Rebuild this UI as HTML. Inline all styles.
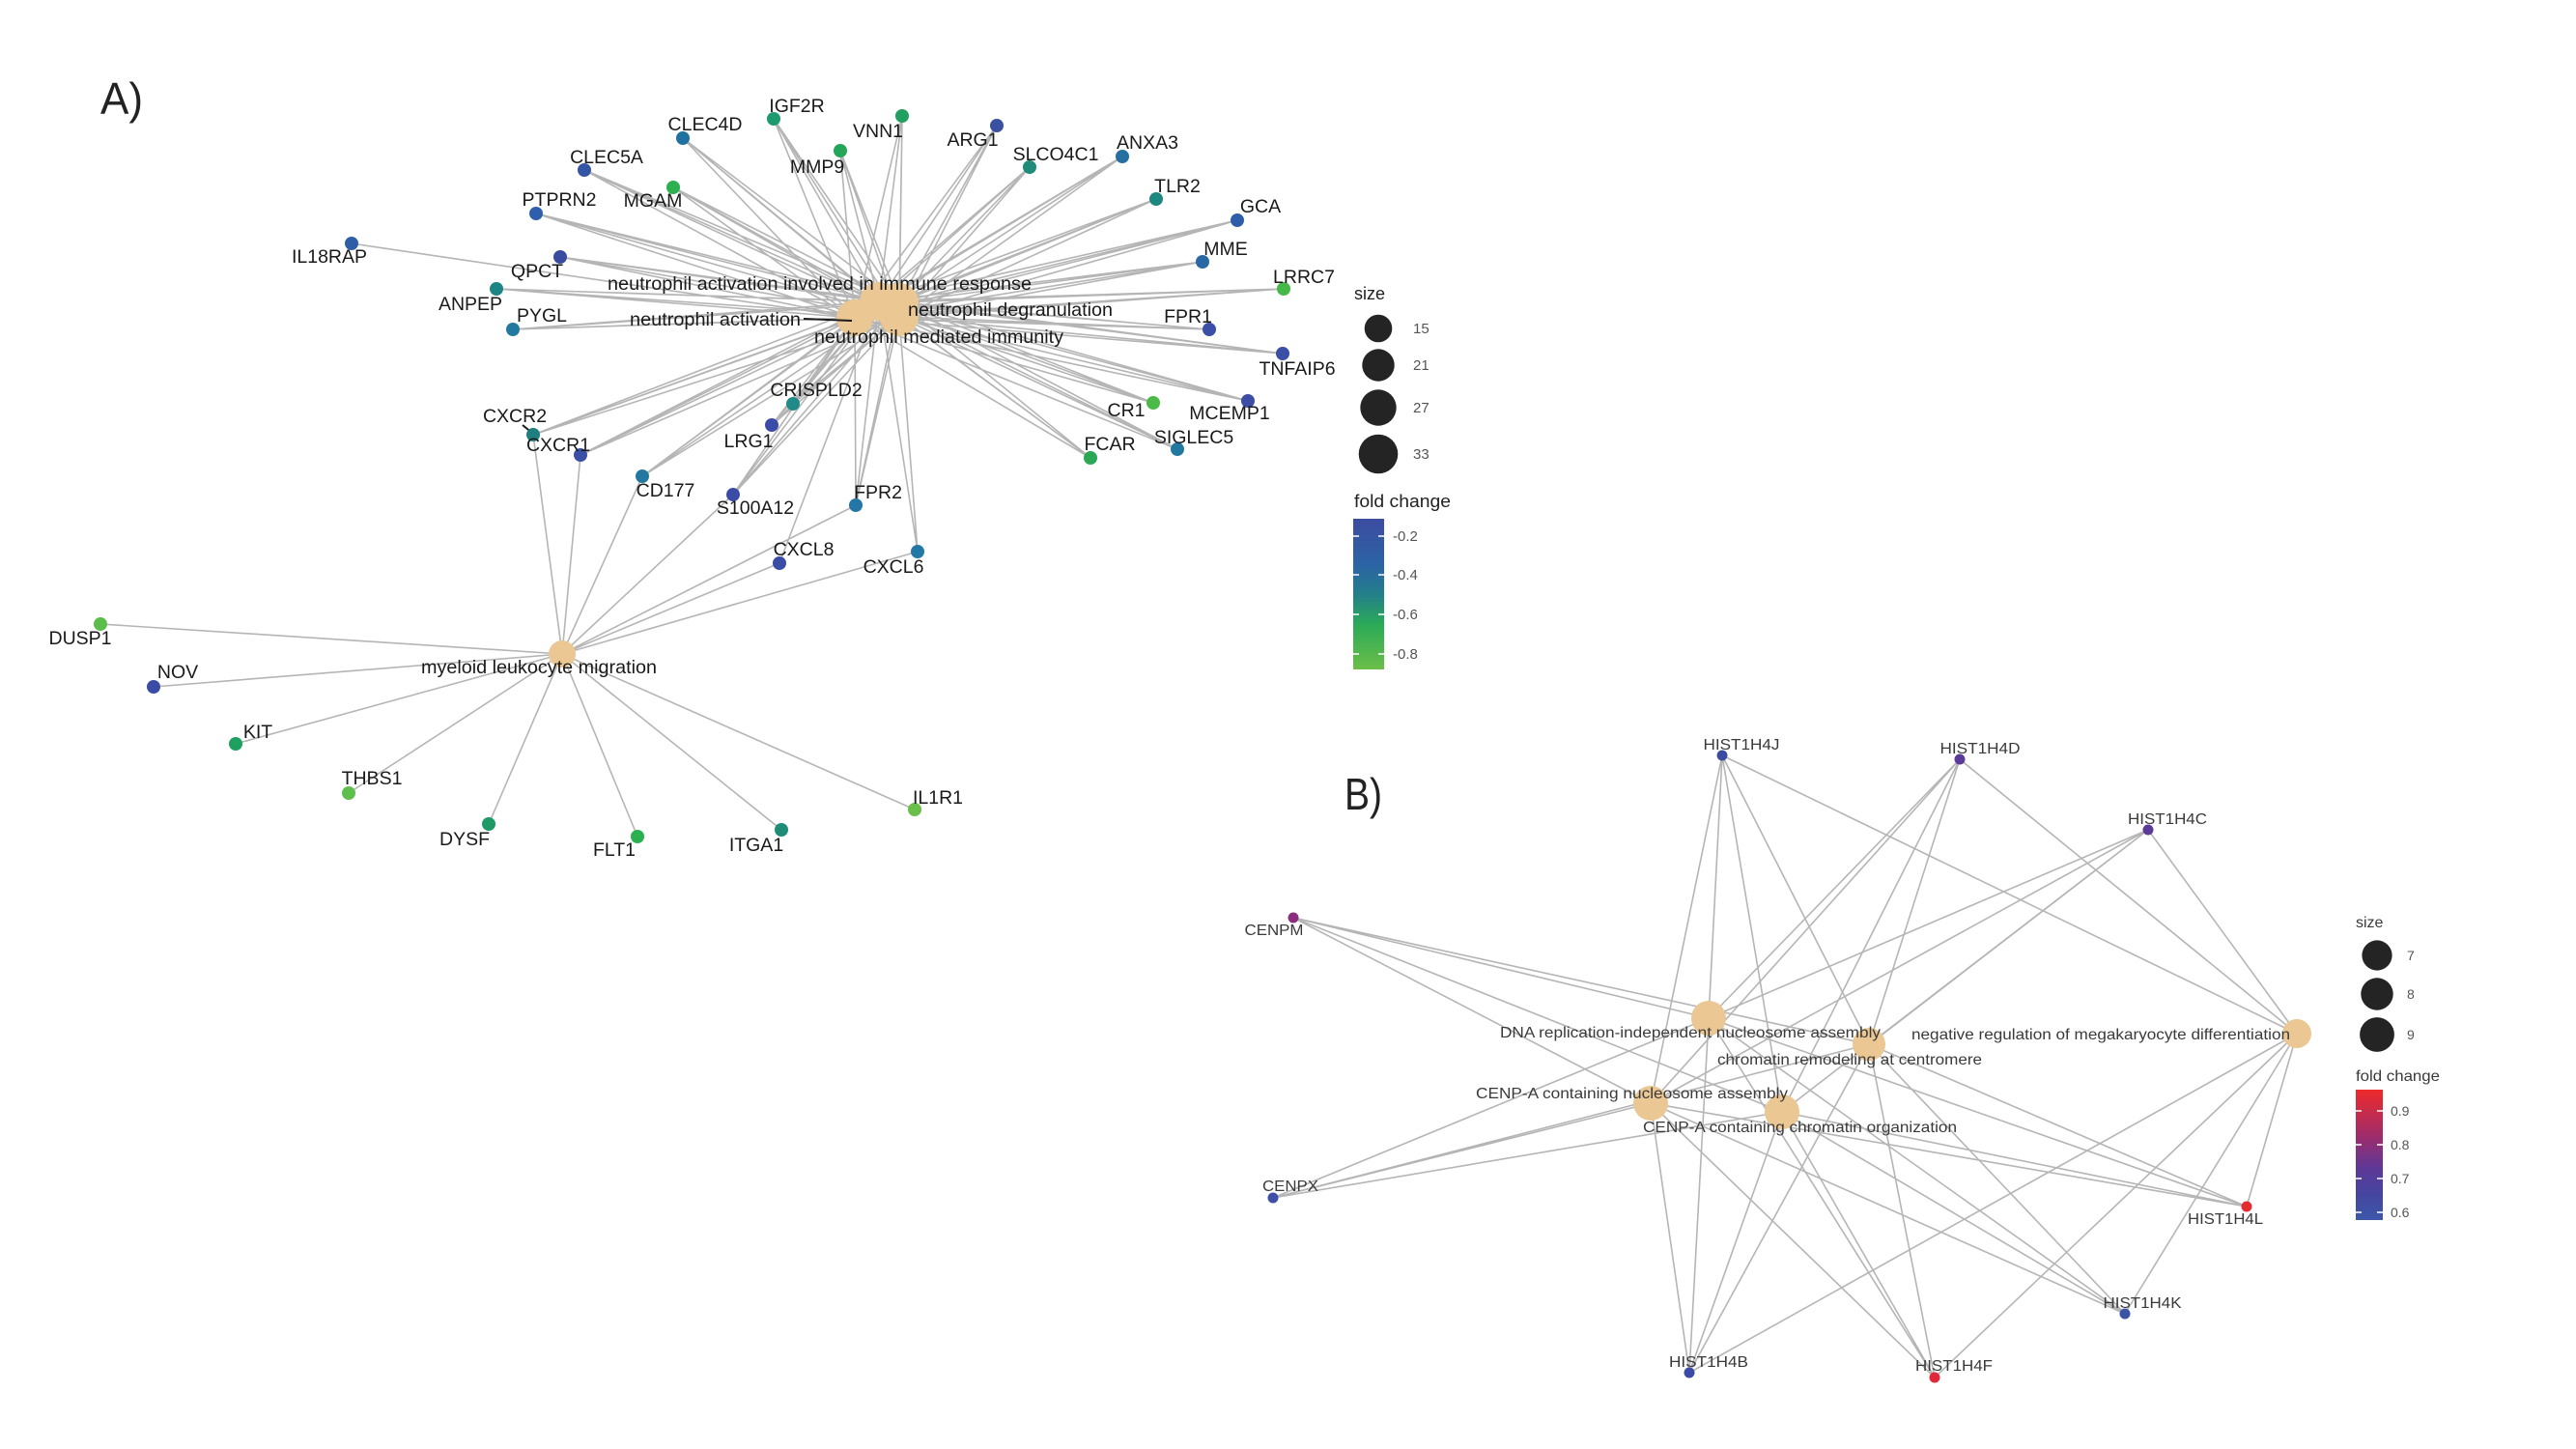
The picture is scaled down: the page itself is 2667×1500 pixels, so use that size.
<!DOCTYPE html>
<html>
<head>
<meta charset="utf-8">
<style>
html,body{margin:0;padding:0;background:#fff;}
svg{display:block;}
text{font-family:"Liberation Sans",Arial,sans-serif;}
.ga{font-size:19.5px;fill:#1a1a1a;text-anchor:middle;}
.gb{font-size:16px;fill:#3a3a3a;text-anchor:middle;}
.tb{font-size:16px;fill:#3a3a3a;}
</style>
</head>
<body>
<svg width="2667" height="1500" viewBox="0 0 2667 1500" xmlns="http://www.w3.org/2000/svg">
<defs>
<linearGradient id="gA" x1="0" y1="0" x2="0" y2="1">
<stop offset="0" stop-color="#3C4C9F"/>
<stop offset="0.3" stop-color="#2C63A6"/>
<stop offset="0.5" stop-color="#237F8A"/>
<stop offset="0.7" stop-color="#2BAA58"/>
<stop offset="1" stop-color="#6BBE48"/>
</linearGradient>
<linearGradient id="gB" x1="0" y1="0" x2="0" y2="1">
<stop offset="0" stop-color="#EE2A2B"/>
<stop offset="0.35" stop-color="#A02C6A"/>
<stop offset="0.6" stop-color="#5E3896"/>
<stop offset="0.8" stop-color="#4545A0"/>
<stop offset="1" stop-color="#3C58A8"/>
</linearGradient>
</defs>

<!-- Panel A edges -->
<path fill="none" stroke="#b5b5b5" stroke-width="1.6" d="
M801 123L910 312M801 123L931 313M801 123L885 329M801 123L931 328
M707 143L910 312M707 143L931 313M707 143L885 329M707 143L931 328
M934 120L910 312M934 120L931 313M934 120L885 329M934 120L931 328
M870 156L910 312M870 156L931 313M870 156L885 329M870 156L931 328
M1032 130L910 312M1032 130L931 313M1032 130L885 329M1032 130L931 328
M1066 173L910 312M1066 173L931 313M1066 173L885 329M1066 173L931 328
M1162 162L910 312M1162 162L931 313M1162 162L885 329M1162 162L931 328
M605 176L910 312M605 176L931 313M605 176L885 329M605 176L931 328
M697 194L910 312M697 194L931 313M697 194L885 329M697 194L931 328
M1197 206L910 312M1197 206L931 313M1197 206L885 329M1197 206L931 328
M1281 228L910 312M1281 228L931 313M1281 228L885 329M1281 228L931 328
M555 221L910 312M555 221L931 313M555 221L885 329M555 221L931 328
M1245 271L910 312M1245 271L931 313M1245 271L885 329M1245 271L931 328
M580 266L910 312M580 266L931 313M580 266L885 329M580 266L931 328
M1329 299L910 312M1329 299L931 313M1329 299L885 329M1329 299L931 328
M514 299L910 312M514 299L931 313M514 299L885 329M514 299L931 328
M531 341L910 312M531 341L931 313M531 341L885 329M531 341L931 328
M1252 341L910 312M1252 341L931 313M1252 341L885 329M1252 341L931 328
M1328 366L910 312M1328 366L931 313M1328 366L885 329M1328 366L931 328
M821 418L910 312M821 418L931 313M821 418L885 329M821 418L931 328
M552 450L910 312M552 450L931 313M552 450L885 329M552 450L931 328
M601 471L910 312M601 471L931 313M601 471L885 329M601 471L931 328
M799 440L910 312M799 440L931 313M799 440L885 329M799 440L931 328
M1194 417L910 312M1194 417L931 313M1194 417L885 329M1194 417L931 328
M1292 415L910 312M1292 415L931 313M1292 415L885 329M1292 415L931 328
M1129 474L910 312M1129 474L931 313M1129 474L885 329M1129 474L931 328
M1219 465L910 312M1219 465L931 313M1219 465L885 329M1219 465L931 328
M665 493L910 312M665 493L931 313M665 493L885 329M665 493L931 328
M759 512L910 312M759 512L931 313M759 512L885 329M759 512L931 328
M886 523L910 312M886 523L931 313M886 523L885 329M886 523L931 328
M364 252L885 329
M807 583L910 312
M950 571L931 328M950 571L910 312
M582 677L104 646M582 677L159 711M582 677L244 770M582 677L361 821
M582 677L506 853M582 677L660 866M582 677L809 859M582 677L947 838
M582 677L552 450M582 677L601 471M582 677L665 493M582 677L759 512
M582 677L886 523M582 677L807 583M582 677L950 571
"/>

<!-- Panel A hub nodes -->
<g fill="#EAC793">
<circle cx="910" cy="312" r="20"/>
<circle cx="931" cy="313" r="20"/>
<circle cx="885" cy="329" r="19"/>
<circle cx="931" cy="328" r="20"/>
<circle cx="582" cy="677" r="14"/>
</g>
<line x1="832" y1="330" x2="882" y2="332" stroke="#1a1a1a" stroke-width="2"/>
<line x1="541" y1="440" x2="552" y2="449" stroke="#1a1a1a" stroke-width="2"/>

<!-- Panel A gene nodes -->
<g>
<circle cx="801" cy="123" r="7" fill="#1F9A6E"/>
<circle cx="707" cy="143" r="7" fill="#2070A0"/>
<circle cx="934" cy="120" r="7" fill="#20A060"/>
<circle cx="870" cy="156" r="7" fill="#25A55A"/>
<circle cx="1032" cy="130" r="7" fill="#3A50A0"/>
<circle cx="1066" cy="173" r="7" fill="#1E8C78"/>
<circle cx="1162" cy="162" r="7" fill="#2570A0"/>
<circle cx="605" cy="176" r="7" fill="#3455A5"/>
<circle cx="697" cy="194" r="7" fill="#2DB050"/>
<circle cx="1197" cy="206" r="7" fill="#1E8880"/>
<circle cx="1281" cy="228" r="7" fill="#2F5EA8"/>
<circle cx="555" cy="221" r="7" fill="#2F5FAA"/>
<circle cx="1245" cy="271" r="7" fill="#2A68A5"/>
<circle cx="364" cy="252" r="7" fill="#2F5EA8"/>
<circle cx="580" cy="266" r="7" fill="#3A4CA0"/>
<circle cx="1329" cy="299" r="7" fill="#44B848"/>
<circle cx="514" cy="299" r="7" fill="#1E8585"/>
<circle cx="531" cy="341" r="7" fill="#2378A0"/>
<circle cx="1252" cy="341" r="7" fill="#3A4FA5"/>
<circle cx="1328" cy="366" r="7" fill="#3A4FA5"/>
<circle cx="821" cy="418" r="7" fill="#1F8A88"/>
<circle cx="552" cy="450" r="7" fill="#1F7F80"/>
<circle cx="601" cy="471" r="7" fill="#3A50A5"/>
<circle cx="799" cy="440" r="7" fill="#3A4CA5"/>
<circle cx="1194" cy="417" r="7" fill="#4CBA48"/>
<circle cx="1292" cy="415" r="7" fill="#3D4CA5"/>
<circle cx="1129" cy="474" r="7" fill="#2AA854"/>
<circle cx="1219" cy="465" r="7" fill="#2378A0"/>
<circle cx="665" cy="493" r="7" fill="#2378A0"/>
<circle cx="759" cy="512" r="7" fill="#3A4CA5"/>
<circle cx="886" cy="523" r="7" fill="#2376A5"/>
<circle cx="807" cy="583" r="7" fill="#3A4CA5"/>
<circle cx="950" cy="571" r="7" fill="#2378A5"/>
<circle cx="104" cy="646" r="7" fill="#5BBE4A"/>
<circle cx="159" cy="711" r="7" fill="#3A4CA5"/>
<circle cx="244" cy="770" r="7" fill="#1DA060"/>
<circle cx="361" cy="821" r="7" fill="#5FBF4C"/>
<circle cx="506" cy="853" r="7" fill="#1E9A68"/>
<circle cx="660" cy="866" r="7" fill="#2BB050"/>
<circle cx="809" cy="859" r="7" fill="#1F8C78"/>
<circle cx="947" cy="838" r="7" fill="#6ABF4A"/>
</g>

<!-- Panel A labels -->
<text x="104" y="118" font-size="46" fill="#222" textLength="44" lengthAdjust="spacingAndGlyphs">A)</text>
<g class="ga">
<text x="825" y="116">IGF2R</text>
<text x="730" y="135">CLEC4D</text>
<text x="909" y="142">VNN1</text>
<text x="846" y="179">MMP9</text>
<text x="1007" y="151">ARG1</text>
<text x="1093" y="166">SLCO4C1</text>
<text x="1188" y="154">ANXA3</text>
<text x="628" y="169">CLEC5A</text>
<text x="676" y="214">MGAM</text>
<text x="1219" y="199">TLR2</text>
<text x="1305" y="220">GCA</text>
<text x="579" y="213">PTPRN2</text>
<text x="1269" y="264">MME</text>
<text x="341" y="272">IL18RAP</text>
<text x="556" y="287">QPCT</text>
<text x="1350" y="293">LRRC7</text>
<text x="487" y="321">ANPEP</text>
<text x="561" y="333">PYGL</text>
<text x="1230" y="334">FPR1</text>
<text x="1343" y="388">TNFAIP6</text>
<text x="845" y="410">CRISPLD2</text>
<text x="533" y="437">CXCR2</text>
<text x="578" y="467">CXCR1</text>
<text x="775" y="463">LRG1</text>
<text x="1166" y="431">CR1</text>
<text x="1273" y="434">MCEMP1</text>
<text x="1149" y="466">FCAR</text>
<text x="1236" y="459">SIGLEC5</text>
<text x="689" y="514">CD177</text>
<text x="782" y="532">S100A12</text>
<text x="909" y="516">FPR2</text>
<text x="832" y="575">CXCL8</text>
<text x="925" y="593">CXCL6</text>
<text x="83" y="667">DUSP1</text>
<text x="184" y="702">NOV</text>
<text x="267" y="764">KIT</text>
<text x="385" y="812">THBS1</text>
<text x="481" y="875">DYSF</text>
<text x="636" y="886">FLT1</text>
<text x="783" y="881">ITGA1</text>
<text x="971" y="832">IL1R1</text>
</g>
<g font-size="19.5" fill="#1a1a1a">
<text x="629" y="300" textLength="439" lengthAdjust="spacingAndGlyphs">neutrophil activation involved in immune response</text>
<text x="940" y="327" textLength="212" lengthAdjust="spacingAndGlyphs">neutrophil degranulation</text>
<text x="652" y="337" textLength="177" lengthAdjust="spacingAndGlyphs">neutrophil activation</text>
<text x="843" y="355" textLength="258" lengthAdjust="spacingAndGlyphs">neutrophil mediated immunity</text>
<text x="436" y="697" textLength="244" lengthAdjust="spacingAndGlyphs">myeloid leukocyte migration</text>
</g>

<!-- Panel A legend -->
<text x="1402" y="310" font-size="18" fill="#222">size</text>
<g fill="#242424">
<circle cx="1427" cy="340" r="14.3"/>
<circle cx="1427" cy="378" r="16.7"/>
<circle cx="1427" cy="422" r="18.7"/>
<circle cx="1427" cy="470" r="20.3"/>
</g>
<g font-size="15" fill="#555">
<text x="1463" y="345">15</text>
<text x="1463" y="383">21</text>
<text x="1463" y="427">27</text>
<text x="1463" y="475">33</text>
</g>
<text x="1402" y="525" font-size="18" fill="#222" textLength="100" lengthAdjust="spacingAndGlyphs">fold change</text>
<rect x="1401" y="537" width="32" height="156" fill="url(#gA)"/>
<g stroke="#fff" stroke-width="1.5">
<line x1="1401" y1="555" x2="1407" y2="555"/><line x1="1427" y1="555" x2="1433" y2="555"/>
<line x1="1401" y1="595" x2="1407" y2="595"/><line x1="1427" y1="595" x2="1433" y2="595"/>
<line x1="1401" y1="636" x2="1407" y2="636"/><line x1="1427" y1="636" x2="1433" y2="636"/>
<line x1="1401" y1="677" x2="1407" y2="677"/><line x1="1427" y1="677" x2="1433" y2="677"/>
</g>
<g font-size="15" fill="#555">
<text x="1442" y="560">-0.2</text>
<text x="1442" y="600">-0.4</text>
<text x="1442" y="641">-0.6</text>
<text x="1442" y="682">-0.8</text>
</g>

<!-- Panel B edges -->
<path fill="none" stroke="#b5b5b5" stroke-width="1.6" d="
M1783 782L1769 1054M1783 782L1935 1081M1783 782L2378 1070M1783 782L1709 1142M1783 782L1845 1151
M2029 786L1769 1054M2029 786L1935 1081M2029 786L2378 1070M2029 786L1709 1142M2029 786L1845 1151
M2224 859L1769 1054M2224 859L1935 1081M2224 859L2378 1070M2224 859L1709 1142M2224 859L1845 1151
M2326 1249L1769 1054M2326 1249L1935 1081M2326 1249L2378 1070M2326 1249L1709 1142M2326 1249L1845 1151
M2200 1360L1769 1054M2200 1360L1935 1081M2200 1360L2378 1070M2200 1360L1709 1142M2200 1360L1845 1151
M1749 1421L1769 1054M1749 1421L1935 1081M1749 1421L2378 1070M1749 1421L1709 1142M1749 1421L1845 1151
M2003 1426L1769 1054M2003 1426L1935 1081M2003 1426L2378 1070M2003 1426L1709 1142M2003 1426L1845 1151
M1339 950L1769 1054M1339 950L1935 1081M1339 950L1709 1142M1339 950L1845 1151
M1318 1240L1769 1054M1318 1240L1935 1081M1318 1240L1709 1142M1318 1240L1845 1151
"/>

<!-- Panel B term nodes -->
<g fill="#EAC793">
<circle cx="1769" cy="1054" r="18"/>
<circle cx="1935" cy="1081" r="17"/>
<circle cx="2378" cy="1070" r="15"/>
<circle cx="1709" cy="1142" r="18"/>
<circle cx="1845" cy="1151" r="18"/>
</g>

<!-- Panel B gene nodes -->
<g>
<circle cx="1783" cy="782" r="5.5" fill="#3B4CA0"/>
<circle cx="2029" cy="786" r="5.5" fill="#5B3A99"/>
<circle cx="2224" cy="859" r="5.5" fill="#5E3A98"/>
<circle cx="1339" cy="950" r="5.5" fill="#8B2E7D"/>
<circle cx="1318" cy="1240" r="5.5" fill="#3D50A8"/>
<circle cx="2326" cy="1249" r="5.5" fill="#E42B2F"/>
<circle cx="2200" cy="1360" r="5.5" fill="#3C52A6"/>
<circle cx="1749" cy="1421" r="5.5" fill="#3A4AA5"/>
<circle cx="2003" cy="1426" r="5.5" fill="#E0283A"/>
</g>

<!-- Panel B labels -->
<text x="1392" y="838" font-size="46" fill="#222" textLength="39" lengthAdjust="spacingAndGlyphs">B)</text>
<g class="gb">
<text x="1803" y="776" textLength="79" lengthAdjust="spacingAndGlyphs">HIST1H4J</text>
<text x="2050" y="780" textLength="83" lengthAdjust="spacingAndGlyphs">HIST1H4D</text>
<text x="2244" y="853" textLength="82" lengthAdjust="spacingAndGlyphs">HIST1H4C</text>
<text x="1319" y="968" textLength="61" lengthAdjust="spacingAndGlyphs">CENPM</text>
<text x="1336" y="1233" textLength="58" lengthAdjust="spacingAndGlyphs">CENPX</text>
<text x="2304" y="1267" textLength="78" lengthAdjust="spacingAndGlyphs">HIST1H4L</text>
<text x="2218" y="1354" textLength="81" lengthAdjust="spacingAndGlyphs">HIST1H4K</text>
<text x="1769" y="1415" textLength="82" lengthAdjust="spacingAndGlyphs">HIST1H4B</text>
<text x="2023" y="1419" textLength="80" lengthAdjust="spacingAndGlyphs">HIST1H4F</text>
</g>
<g class="tb">
<text x="1553" y="1074" textLength="394" lengthAdjust="spacingAndGlyphs">DNA replication-independent nucleosome assembly</text>
<text x="1778" y="1102" textLength="274" lengthAdjust="spacingAndGlyphs">chromatin remodeling at centromere</text>
<text x="1528" y="1137" textLength="323" lengthAdjust="spacingAndGlyphs">CENP-A containing nucleosome assembly</text>
<text x="1701" y="1172" textLength="325" lengthAdjust="spacingAndGlyphs">CENP-A containing chromatin organization</text>
<text x="1979" y="1076" textLength="392" lengthAdjust="spacingAndGlyphs">negative regulation of megakaryocyte differentiation</text>
</g>

<!-- Panel B legend -->
<text x="2439" y="960" font-size="16" fill="#3a3a3a">size</text>
<g fill="#242424">
<circle cx="2461" cy="989" r="15.6"/>
<circle cx="2461" cy="1029" r="16.7"/>
<circle cx="2461" cy="1071" r="17.9"/>
</g>
<g font-size="14" fill="#555">
<text x="2492" y="994">7</text>
<text x="2492" y="1034">8</text>
<text x="2492" y="1076">9</text>
</g>
<text x="2439" y="1119" font-size="16" fill="#3a3a3a" textLength="87" lengthAdjust="spacingAndGlyphs">fold change</text>
<rect x="2439" y="1128" width="28" height="135" fill="url(#gB)"/>
<g stroke="#fff" stroke-width="1.5">
<line x1="2439" y1="1150" x2="2445" y2="1150"/><line x1="2461" y1="1150" x2="2467" y2="1150"/>
<line x1="2439" y1="1185" x2="2445" y2="1185"/><line x1="2461" y1="1185" x2="2467" y2="1185"/>
<line x1="2439" y1="1220" x2="2445" y2="1220"/><line x1="2461" y1="1220" x2="2467" y2="1220"/>
<line x1="2439" y1="1255" x2="2445" y2="1255"/><line x1="2461" y1="1255" x2="2467" y2="1255"/>
</g>
<g font-size="14" fill="#555">
<text x="2475" y="1155">0.9</text>
<text x="2475" y="1190">0.8</text>
<text x="2475" y="1225">0.7</text>
<text x="2475" y="1260">0.6</text>
</g>
</svg>
</body>
</html>
